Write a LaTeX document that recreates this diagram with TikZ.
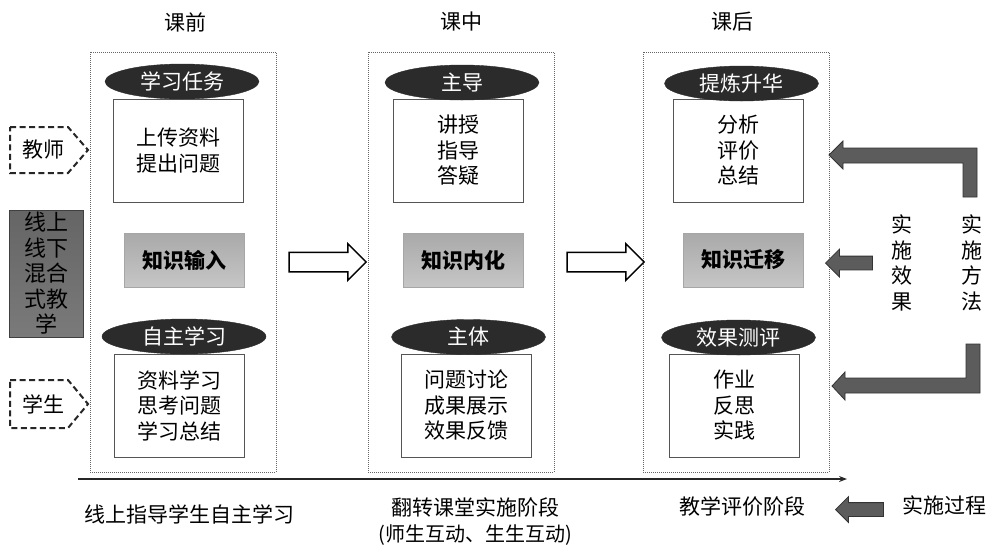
\documentclass[tikz,border=0pt]{standalone}
\usepackage{fontspec}
\setmainfont{Noto Sans CJK SC}
\usetikzlibrary{positioning}
\usetikzlibrary{arrows.meta}
\usetikzlibrary{shapes.geometric}
\usetikzlibrary{shapes.arrows}
\definecolor{ovalfill}{HTML}{2B2B2B}
\definecolor{boxline}{HTML}{555555}
\definecolor{frameline}{HTML}{666666}
\definecolor{knowtop}{HTML}{A9A9A9}
\definecolor{knowbot}{HTML}{C6C6C6}
\definecolor{mixtop}{HTML}{656565}
\definecolor{mixbot}{HTML}{7A7A7A}
\definecolor{blockfill}{HTML}{5C5C5C}
\definecolor{blockline}{HTML}{333333}
\tikzset {
  base font/.style = {
    font = \fontsize{21}{25.5}\selectfont
  },
  % dotted frame round one stage
  stage frame/.style = {
    draw = frameline,
    dash pattern = on 1pt off 1pt,
    line width = 0.7pt,
    minimum width = 186pt,
    minimum height = 420pt
  },
  stage title/.style = {
    font = \fontsize{21}{25}\selectfont
  },
  % black oval heading
  role oval/.style = {
    base font,
    ellipse,
    draw = ovalfill,
    fill = ovalfill,
    text = white,
    minimum width = 154pt,
    minimum height = 35pt,
    inner sep = 0
  },
  content box/.style = {
    base font,
    draw = boxline,
    line width = 1pt,
    fill = white,
    align = center,
    minimum width = 130pt,
    minimum height = 103pt,
    inner sep = 0
  },
  know box/.style = {
    base font,
    draw = gray!70,
    top color = knowtop,
    bottom color = knowbot,
    minimum width = 120pt,
    minimum height = 54pt,
    font = \fontsize{21}{25}\selectfont\bfseries
  },
  % teacher and student
  actor/.style = {
    base font,
    inner sep = 0
  },
  % dashed pointer drawn round an actor
  actor line/.style = {
    draw = black!85,
    dash pattern = on 6pt off 3.5pt,
    line width = 2pt,
    line join = miter
  },
  mix box/.style = {
    font = \fontsize{22}{25.5}\selectfont,
    draw = black!75,
    top color = mixtop,
    bottom color = mixbot,
    align = center,
    minimum width = 74pt,
    minimum height = 127pt,
    inner sep = 0
  },
  % hollow arrow between the stages
  flow arrow/.style = {
    single arrow,
    draw = black,
    fill = white,
    line width = 1.5pt,
    inner xsep = 0,
    inner ysep = 9pt,
    single arrow head extend = 8.5pt,
    minimum height = 77pt
  },
  % dark block arrow pointing left
  back arrow/.style = {
    single arrow,
    shape border rotate = 180,
    draw = blockline,
    fill = blockfill,
    line width = 0.8pt,
    inner xsep = 0,
    inner ysep = 6.5pt,
    single arrow head extend = 7pt,
    minimum height = 47pt
  },
  block path/.style = {
    draw = blockline,
    fill = blockfill,
    line width = 0.8pt
  },
  side text/.style = {
    base font,
    align = center,
    inner sep = 0
  },
  axis line/.style = {
    draw = black!85,
    line width = 1.3pt,
    -{Stealth[length=8pt,width=6pt]}
  }
}
\begin{document}
\begin{tikzpicture}[x=1pt,y=-1pt]
    \useasboundingbox (0,0) rectangle (998,550);

    % stage titles
    \node[stage title] (tpre) at (185,22) {课前};
    \node[stage title] (tmid) at (461,22) {课中};
    \node[stage title] (tpost) at (732,22) {课后};

    % stage frames
    \node[stage frame] (pre) at (183,262) {};
    \node[stage frame] (mid) at (461,262) {};
    \node[stage frame] (post) at (736,262) {};

    % before class
    \node[content box] (preTask) at (178.5,150.5) {上传资料\\提出问题};
    \node[role oval] (preTaskT) at (182,81.5) {学习任务};
    \node[know box] (preKnow) at (184,260) {知识输入};
    \node[content box] (preSelf) at (179,405.5) {资料学习\\思考问题\\学习总结};
    \node[role oval, minimum width=164pt] (preSelfT) at (184,336.5) {自主学习};

    % in class
    \node[content box] (midLead) at (458.5,150.5) {讲授\\指导\\答疑};
    \node[role oval] (midLeadT) at (462,82.5) {主导};
    \node[know box] (midKnow) at (463.5,260) {知识内化};
    \node[content box] (midBody) at (466.5,405.5) {问题讨论\\成果展示\\效果反馈};
    \node[role oval] (midBodyT) at (468.5,337) {主体};

    % after class
    \node[content box] (postSum) at (738,150.5) {分析\\评价\\总结};
    \node[role oval] (postSumT) at (741.5,83.5) {提炼升华};
    \node[know box] (postKnow) at (743,260) {知识迁移};
    \node[content box] (postTest) at (734,405.5) {作业\\反思\\实践};
    \node[role oval] (postTestT) at (738.5,337.5) {效果测评};

    % left side
    \node[actor] (teacher) at (44,150) {教师};
    \node[actor] (student) at (44,404) {学生};
    \draw[actor line] ([shift={(-34,-23)}]teacher.center) -- ++(58,0) -- ++(20,23)
      -- ++(-20,23) -- ++(-58,0) -- cycle;
    \draw[actor line] ([shift={(-34,-24)}]student.center) -- ++(58,0) -- ++(20,24)
      -- ++(-20,24) -- ++(-58,0) -- cycle;
    \node[mix box] (mixed) at (46,273.5) {线上\\线下\\混合\\式教\\学};

    % stage to stage
    \node[flow arrow] (preToMid) [right=12pt of pre] {};
    \node[flow arrow] (midToPost) [right=12pt of mid] {};

    % right side
    \node[side text] (effect) at (902,263) {实\\施\\效\\果};
    \node[side text] (method) at (972,263) {实\\施\\方\\法};
    \node[back arrow] (effArrow) at (852.5,263) {};
    \path[block path] (829,155) -- (843,141) -- (843,148) -- (977,148)
      -- (977,197) -- (963,197) -- (963,163) -- (843,163) -- (843,169) -- cycle;
    \path[block path] (832,386) -- (845,372) -- (845,378) -- (966,378)
      -- (966,344) -- (980,344) -- (980,393) -- (845,393) -- (845,400) -- cycle;

    % time line and phases
    \coordinate (axisL) at (78,479);
    \coordinate (axisR) at (847,479);
    \draw[axis line] (axisL) -- (axisR);

    \node[base font] (phPre) at (189.5,514) {线上指导学生自主学习};
    \node[base font] (phMid) at (475,507) {翻转课堂实施阶段};
    \node[font=\fontsize{20}{22}\selectfont] (phMidSub) [below=1pt of phMid] {(师生互动、生生互动)};
    \node[base font] (phPost) at (742,506) {教学评价阶段};
    \node[back arrow, minimum height=48pt, single arrow head extend=6pt] (procArrow) at (863,509.5) {};
    \node[base font] (process) at (944.5,505) {实施过程};
  \end{tikzpicture}
\end{document}
